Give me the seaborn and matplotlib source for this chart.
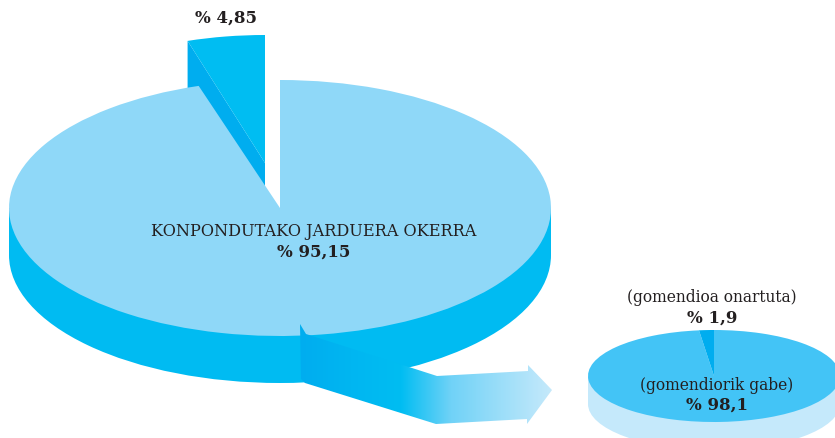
import matplotlib
matplotlib.use("Agg")
import matplotlib.pyplot as plt
from matplotlib.patches import Polygon
import seaborn as sns
import numpy as np

sns.set_style("white")
plt.rcParams['font.family'] = ['DejaVu Serif']

W, H = 835, 438

main_shares = [95.15, 4.85]
main_label = "KONPONDUTAKO JARDUERA OKERRA"
main_values = ["% 95,15", "% 4,85"]
sub_shares = [98.1, 1.9]
sub_labels = ["(gomendiorik gabe)", "(gomendioa onartuta)"]
sub_values = ["% 98,1", "% 1,9"]
lower_half = [25, 50, 25]

LIGHT = "#8FD8F8"
RIM = "#00BBF2"
SLICE = "#00BDF2"
DARK = "#00ADEF"
SUB_TOP = "#43C4F6"
SUB_RIM = "#C5E9FB"
INK = "#231F20"
arrow_stops = ["#00ADEF", "#00B6F1", "#00BDF2", "#70D2F7", "#9CDEF9", "#C5E9FB"]

fig = plt.figure(figsize=(W / 100, H / 100), dpi=100)


def pixel_axes(z):
    ax = fig.add_axes([0, 0, 1, 1], zorder=z)
    ax.set_xlim(0, W)
    ax.set_ylim(H, 0)
    ax.axis("off")
    return ax


def pie_layer(shares, colors, cx, cy, rx, ry, z):
    # one axes per ellipse, pie stretched to fill it
    ax = fig.add_axes([(cx - rx) / W, 1 - (cy + ry) / H, 2 * rx / W, 2 * ry / H], zorder=z)
    ax.pie(shares, colors=colors, startangle=90, counterclock=False, radius=1,
           wedgeprops={"linewidth": 0})
    ax.set_aspect("auto")
    ax.set_xlim(-1, 1)
    ax.set_ylim(-1, 1)
    ax.axis("off")
    for p in ax.patches:
        p.set_clip_on(False)
    return ax


# exploded slice, side wall first  ############################################
back = pixel_axes(0)
cut = np.radians(main_shares[1] * 3.6)
ex_cx, ex_cy, ex_rx, ry, depth = 265, 163, 258, 128, 47
left_x = ex_cx - ex_rx * np.sin(cut)
left_y = ex_cy - ry * np.cos(cut)
back.add_patch(Polygon([(left_x, left_y), (ex_cx, ex_cy), (ex_cx, ex_cy + depth),
                        (left_x, left_y + depth)], closed=True, color=DARK, lw=0))
pie_layer(main_shares, ["none", SLICE], ex_cx, ex_cy, ex_rx, ry, 1)

# big pie  ####################################################################
cx, cy, rx = 280, 208, 271
rim = pixel_axes(2)
rim.fill_between([cx - rx, cx + rx], cy, cy + depth, color=RIM, lw=0)
pie_layer(lower_half, ["none", RIM, "none"], cx, cy + depth, rx, ry, 3)
pie_layer(main_shares, [LIGHT, "none"], cx, cy, rx, ry, 4)

# small pie  ##################################################################
sx, sy, srx, sry, sdepth = 714, 376, 126, 46, 28
rim2 = pixel_axes(5)
rim2.fill_between([sx - srx, sx + srx], sy, sy + sdepth, color=SUB_RIM, lw=0)
pie_layer(lower_half, ["none", SUB_RIM, "none"], sx, sy + sdepth, srx, sry, 6)
pie_layer(sub_shares, [SUB_TOP, DARK], sx, sy, srx, sry, 7)

# arrow and labels  ###########################################################
front = pixel_axes(8)
arrow = Polygon([(300, 324), (306, 334), (437, 376), (528, 371), (528, 365), (552, 390),
                 (527, 424), (527, 419), (436, 424), (305, 383), (301, 379)],
                closed=True, facecolor="none", edgecolor="none", lw=0)
front.add_patch(arrow)
cmap = sns.blend_palette(arrow_stops, as_cmap=True)
img = front.imshow(np.linspace(0, 1, 256).reshape(1, -1), cmap=cmap, aspect="auto",
                   extent=(300, 552, 424, 324))
img.set_clip_path(arrow)
front.set_xlim(0, W)
front.set_ylim(H, 0)

reg = {"ha": "center", "va": "center", "color": INK, "fontsize": 11.6}
bold = {"ha": "center", "va": "center", "color": INK, "fontsize": 12, "fontweight": "bold"}
front.text(226, 18, main_values[1], **bold)
front.text(314, 231, main_label, **reg)
front.text(314, 252, main_values[0], **bold)
front.text(712, 298, sub_labels[1], fontsize=11.2, ha="center", va="center", color=INK)
front.text(712, 318, sub_values[1], **bold)
front.text(717, 386, sub_labels[0], fontsize=11.2, ha="center", va="center", color=INK)
front.text(717, 405, sub_values[0], **bold)

fig.savefig("out.png", dpi=100)
